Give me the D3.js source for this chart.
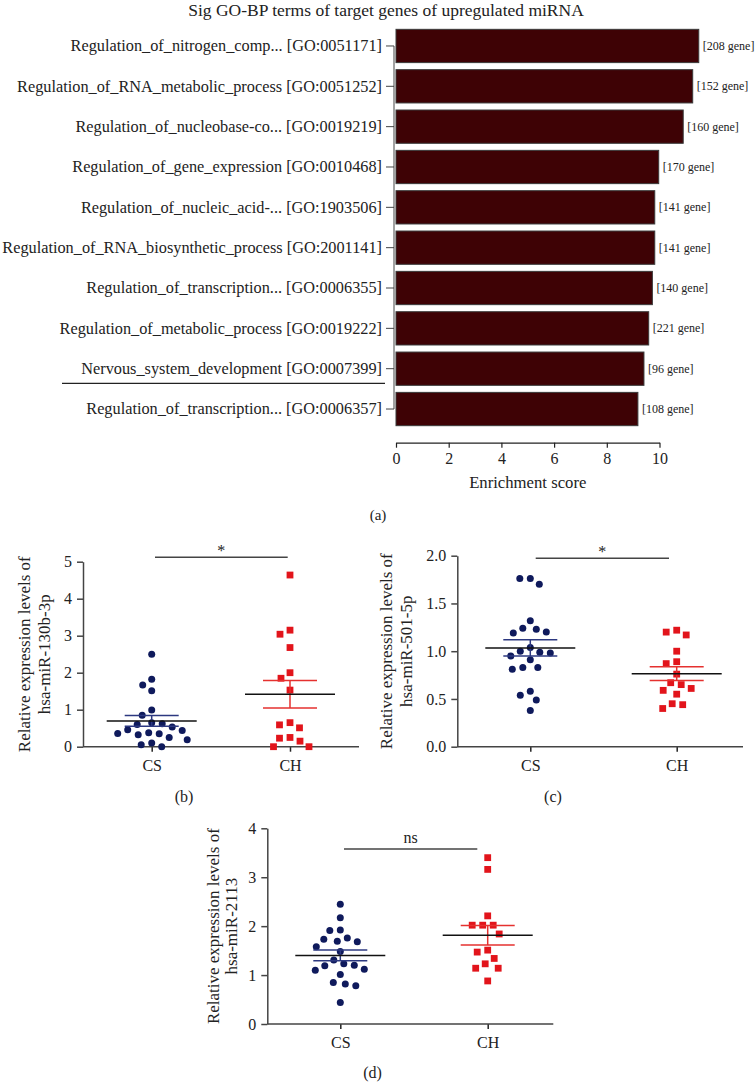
<!DOCTYPE html>
<html><head><meta charset="utf-8">
<script src="https://cdn.jsdelivr.net/npm/d3@7"></script>
<style>
body{margin:0;background:#fff}
svg{display:block}
text{font-family:"Liberation Serif","Times New Roman",serif;fill:#222}
</style>
</head><body>
<svg id="c" width="756" height="1082"></svg>
<script>
// ---------- DATA ----------
const chartTitle = "Sig GO-BP terms of target genes of upregulated miRNA";
const goTerms = [
  "Regulation_of_nitrogen_comp...",
  "Regulation_of_RNA_metabolic_process",
  "Regulation_of_nucleobase-co...",
  "Regulation_of_gene_expression",
  "Regulation_of_nucleic_acid-...",
  "Regulation_of_RNA_biosynthetic_process",
  "Regulation_of_transcription...",
  "Regulation_of_metabolic_process",
  "Nervous_system_development",
  "Regulation_of_transcription..."
];
const goIds = ["GO:0051171","GO:0051252","GO:0019219","GO:0010468","GO:1903506",
               "GO:2001141","GO:0006355","GO:0019222","GO:0007399","GO:0006357"];
const enrichment = [11.49, 11.26, 10.90, 9.97, 9.82, 9.82, 9.73, 9.59, 9.41, 9.18];
const geneCounts = [208, 152, 160, 170, 141, 141, 140, 221, 96, 108];
const enrichTicks = [0, 2, 4, 6, 8, 10];

const groups = ["CS", "CH"];

const mir130b_CS = [2.50, 1.67, 1.82, 1.51, 0.99, 0.85, 0.62, 0.65, 0.60, 0.53, 0.46,
                    0.44, 0.36, 0.35, 0.38, 0.32, 0.25, 0.19, 0.10, 0.05, 0.00];
const mir130b_CH = [4.64, 3.15, 3.04, 2.68, 2.00, 1.85, 1.53, 0.59, 0.51, 0.65, 0.25,
                    0.15, 0.23, 0.00, 0.00];
const mir130b_ticks = [0, 1, 2, 3, 4, 5];

const mir501_CS = [1.76, 1.70, 1.76, 1.32, 1.23, 1.19, 1.20, 1.24, 0.99, 0.98, 0.95,
                   1.00, 1.04, 0.91, 0.83, 0.81, 0.83, 0.58, 0.54, 0.49, 0.38];
const mir501_CH = [1.22, 1.17, 1.20, 1.00, 0.89, 0.87, 0.76, 0.65, 0.67, 0.59, 0.55,
                   0.61, 0.45, 0.44, 0.40];
const mir501_ticks = [0, 0.5, 1.0, 1.5, 2.0];

const mir2113_CS = [2.45, 2.17, 1.91, 1.92, 1.69, 1.73, 1.76, 1.68, 1.58, 1.48, 1.31,
                    1.23, 1.20, 1.19, 1.10, 1.12, 1.01, 0.82, 0.78, 0.85, 0.44];
const mir2113_CH = [3.40, 3.16, 2.21, 2.02, 2.02, 2.02, 1.84, 1.51, 1.47, 1.34, 1.23,
                    1.14, 1.14, 0.88];
const mir2113_ticks = [0, 1, 2, 3, 4];

// ---------- STYLE ----------
const BAR_FILL = "#3e0205", BAR_STROKE = "#3a3a3a";
const NAVY = "#0f1a5c", RED = "#e2141b", NAVY_SEM = "#2c3880", RED_SEM = "#e5312f";
const AX = "#444";

const svg = d3.select("#c");

// ---------- PANEL (a) ----------
const xA = d3.scaleLinear().domain([0, 10]).range([396, 659.5]);
const yA = d3.scaleBand().domain(d3.range(goTerms.length))
  .range([25.8, 429.2]).paddingInner(0.175).paddingOuter(0.0875);

svg.append("text").attr("x", 386).attr("y", 16).attr("text-anchor", "middle")
  .attr("font-size", 17.5).text(chartTitle);

svg.append("g").selectAll("rect").data(enrichment).join("rect")
  .attr("x", xA(0)).attr("y", (d, i) => yA(i))
  .attr("width", d => xA(d) - xA(0)).attr("height", yA.bandwidth())
  .attr("fill", BAR_FILL).attr("stroke", BAR_STROKE).attr("stroke-width", 1);

svg.append("g").selectAll("text").data(geneCounts).join("text")
  .attr("x", (d, i) => xA(enrichment[i]) + 4)
  .attr("y", (d, i) => yA(i) + yA.bandwidth() / 2 + 4)
  .attr("font-size", 12).attr("fill", "#333")
  .text(d => "[" + d + " gene]");

const yAxisA = svg.append("g").attr("transform", "translate(394,0)")
  .call(d3.axisLeft(yA).tickSize(8).tickPadding(4)
    .tickFormat(i => goTerms[i] + " [" + goIds[i] + "]"));
yAxisA.select(".domain").remove();
yAxisA.selectAll("line").attr("stroke", AX);
yAxisA.selectAll("text").attr("font-size", 16.3).attr("fill", "#222").attr("font-family", null);
const yc0 = yA(0) + yA.bandwidth() / 2, yc1 = yA(goTerms.length - 1) + yA.bandwidth() / 2;
svg.append("line").attr("x1", 394).attr("x2", 394).attr("y1", yc0).attr("y2", yc1)
  .attr("stroke", AX).attr("stroke-width", 1);

// separator line under "Nervous_system_development"
svg.append("line").attr("x1", 62).attr("x2", 385)
  .attr("y1", 383.3).attr("y2", 383.3).attr("stroke", "#222").attr("stroke-width", 1.2);

const xAxisA = svg.append("g").attr("transform", "translate(0,442.7)")
  .call(d3.axisBottom(xA).tickValues(enrichTicks).tickSize(5).tickSizeOuter(0).tickPadding(5));
xAxisA.selectAll("line,path").attr("stroke", "#222").attr("stroke-width", 1.2);
xAxisA.selectAll("text").attr("font-size", 16).attr("fill", "#222").attr("font-family", null);

svg.append("text").attr("x", (xA(0) + xA(10)) / 2).attr("y", 488).attr("text-anchor", "middle")
  .attr("font-size", 16.7).text("Enrichment score");
svg.append("text").attr("x", 378).attr("y", 520).attr("text-anchor", "middle")
  .attr("font-size", 15).text("(a)");

// ---------- SCATTER PANELS ----------
function swarm(vals, y, cx, minD) {
  const idx = d3.range(vals.length).sort((a, b) => vals[b] - vals[a]);
  const placed = [], xs = new Array(vals.length);
  for (const i of idx) {
    const py = y(vals[i]);
    let px = cx;
    for (let k = 0; k < 600; k++) {
      const off = (k % 2 === 0 ? 1 : -1) * Math.ceil(k / 2) * 0.5;
      const cand = cx + off;
      if (placed.every(p => Math.hypot(p[0] - cand, p[1] - py) >= minD)) { px = cand; break; }
    }
    xs[i] = px; placed.push([px, py]);
  }
  return xs;
}

function panel(cfg) {
  const g = svg.append("g");
  const y = d3.scaleLinear().domain([cfg.ticks[0], cfg.ticks[cfg.ticks.length - 1]])
    .range([cfg.yBottom, cfg.yTop]);
  const xg = d3.scalePoint().domain(groups).range([cfg.csX, cfg.chX]);

  const ya = g.append("g").attr("transform", `translate(${cfg.x0},0)`)
    .call(d3.axisLeft(y).tickValues(cfg.ticks).tickFormat(cfg.fmt).tickSize(6).tickSizeOuter(0).tickPadding(5));
  ya.selectAll("line,path").attr("stroke", AX).attr("stroke-width", 1.5);
  ya.selectAll("text").attr("font-size", 16).attr("fill", "#222").attr("font-family", null);

  const xa = g.append("g").attr("transform", `translate(0,${cfg.yBottom})`)
    .call(d3.axisBottom(xg).tickSize(5).tickSizeOuter(0).tickPadding(8));
  xa.select(".domain").remove();
  xa.selectAll("line").attr("stroke", "#222").attr("stroke-width", 1.5);
  xa.selectAll("text").attr("font-size", 16).attr("fill", "#222").attr("font-family", null);
  g.append("line").attr("x1", cfg.x0).attr("x2", cfg.x1)
    .attr("y1", cfg.yBottom).attr("y2", cfg.yBottom).attr("stroke", AX).attr("stroke-width", 1.5);

  const ymid = (cfg.yTop + cfg.yBottom) / 2;
  cfg.ylabel.forEach((t, i) => {
    g.append("text").attr("transform", `translate(${cfg.labX[i]},${ymid}) rotate(-90)`)
      .attr("text-anchor", "middle").attr("font-size", 17).text(t);
  });

  g.append("line").attr("x1", cfg.sig[0]).attr("x2", cfg.sig[1])
    .attr("y1", cfg.sig[2]).attr("y2", cfg.sig[2]).attr("stroke", AX).attr("stroke-width", 1.5);
  g.append("text").attr("x", (cfg.sig[0] + cfg.sig[1]) / 2).attr("y", cfg.sig[2] - cfg.sigOff)
    .attr("text-anchor", "middle").attr("font-size", 16).attr("fill", "#333").text(cfg.sigText);

  g.append("text").attr("x", cfg.lab[0]).attr("y", cfg.lab[1]).attr("text-anchor", "middle")
    .attr("font-size", 16).text(cfg.lab[2]);

  [[cfg.cs, "CS"], [cfg.ch, "CH"]].forEach(([vals, grp]) => {
    const cx = xg(grp);
    const xs = swarm(vals, y, cx, 10.4);
    if (grp === "CS") {
      g.append("g").selectAll("circle").data(vals).join("circle")
        .attr("cx", (d, i) => xs[i]).attr("cy", d => y(d)).attr("r", 3.5).attr("fill", NAVY);
    } else {
      const s = 6.8;
      g.append("g").selectAll("rect").data(vals).join("rect")
        .attr("x", (d, i) => xs[i] - s / 2).attr("y", d => y(d) - s / 2)
        .attr("width", s).attr("height", s).attr("fill", RED);
    }
    const m = d3.mean(vals), sem = d3.deviation(vals) / Math.sqrt(vals.length);
    const semCol = grp === "CS" ? NAVY_SEM : RED_SEM;
    g.append("line").attr("x1", cx).attr("x2", cx).attr("y1", y(m + sem)).attr("y2", y(m - sem))
      .attr("stroke", semCol).attr("stroke-width", 1.5);
    [m + sem, m - sem].forEach(v => g.append("line").attr("x1", cx - 27).attr("x2", cx + 27)
      .attr("y1", y(v)).attr("y2", y(v)).attr("stroke", semCol).attr("stroke-width", 1.5));
    g.append("line").attr("x1", cx - 45).attr("x2", cx + 45).attr("y1", y(m)).attr("y2", y(m))
      .attr("stroke", "#111").attr("stroke-width", 1.5);
  });
}

panel({ x0: 83, x1: 359, yTop: 561.7, yBottom: 746.7, csX: 151.7, chX: 290,
  ticks: mir130b_ticks, fmt: d3.format("d"), cs: mir130b_CS, ch: mir130b_CH,
  ylabel: ["Relative expression levels of", "hsa-miR-130b-3p"], labX: [30, 50],
  sig: [155, 287.7, 557.3], sigText: "*", sigOff: 1, lab: [184, 802, "(b)"] });

panel({ x0: 457.3, x1: 743, yTop: 555.7, yBottom: 746.7, csX: 530.3, chX: 676.7,
  ticks: mir501_ticks, fmt: d3.format(".1f"), cs: mir501_CS, ch: mir501_CH,
  ylabel: ["Relative expression levels of", "hsa-miR-501-5p"], labX: [392, 412],
  sig: [535.7, 669, 558.3], sigText: "*", sigOff: 1, lab: [553, 802, "(c)"] });

panel({ x0: 267.3, x1: 553.3, yTop: 828.3, yBottom: 1024, csX: 340.3, chX: 487.7,
  ticks: mir2113_ticks, fmt: d3.format("d"), cs: mir2113_CS, ch: mir2113_CH,
  ylabel: ["Relative expression levels of", "hsa-miR-2113"], labX: [218.5, 236.5],
  sig: [344, 477.3, 849], sigText: "ns", sigOff: 6, lab: [372.5, 1078, "(d)"] });
</script>
</body></html>
